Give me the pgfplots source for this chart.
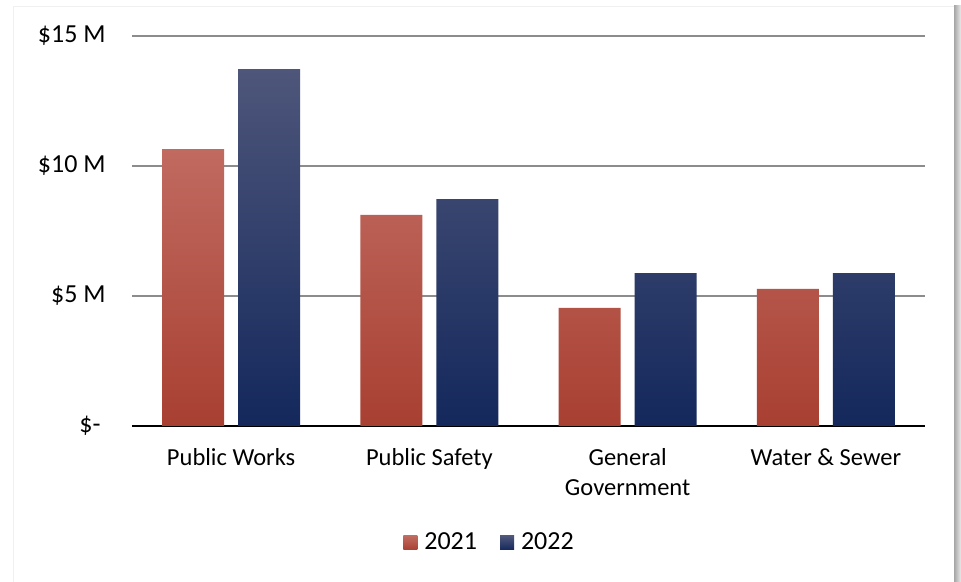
\documentclass[border=0pt]{standalone}
\usepackage{pgfplots}
\pgfplotsset{compat=1.18}
\usepackage{fontspec}
\setmainfont{Carlito}
\definecolor{gridc}{RGB}{140,140,140}
\definecolor{rtop}{RGB}{193,106,96}
\definecolor{rmid}{RGB}{186,80,66}
\definecolor{rbot}{RGB}{168,64,50}
\definecolor{btop}{RGB}{78,86,122}
\definecolor{bmid}{RGB}{30,48,100}
\definecolor{bbot}{RGB}{20,40,92}
\begin{document}
\begin{tikzpicture}[x=1bp,y=1bp]
\fontsize{24.5bp}{30bp}\selectfont
% page and frame
\fill[white] (0,0) rectangle (961,582);
\fill[left color=black!35, right color=black!8] (954,0) rectangle (961,576);
\draw[black!6, line width=1bp] (13.5,0) -- (13.5,575.5) -- (954,575.5);
\begin{axis}[
  at={(132bp,156bp)}, anchor=south west,
  scale only axis, width=793bp, height=390bp,
  xmin=-0.5, xmax=3.5, ymin=0, ymax=15,
  ybar, bar width=0.3128,
  axis line style={draw=none},
  axis x line*=bottom,
  x axis line style={draw=black, line width=1.5bp},
  y axis line style={draw=none},
  xtick={0,1,2,3},
  xticklabels={Public Works, Public Safety, General\\Government, Water \& Sewer},
  x tick label style={align=center, font=\fontsize{24.5bp}{30bp}\selectfont, yshift=-14bp},
  ytick={0,5,10,15},
  yticklabels={\$-\hspace*{5bp}, \$5 M, \$10 M, \$15 M},
  y tick label style={font=\fontsize{26bp}{30bp}\selectfont, anchor=east, xshift=-18bp},
  major tick length=0pt,
  ymajorgrids, grid style={gridc, line width=1.5bp},
  axis on top=false,
  legend columns=2,
  legend style={draw=none, fill=none, at={(0.4515,-0.30)}, anchor=center,
    font=\fontsize{26bp}{30bp}\selectfont,
    /tikz/every even column/.append style={column sep=20bp},
    nodes={inner sep=3bp}},
  legend image code/.code={\path[#1, draw=none] (0bp,-7bp) rectangle (14bp,7bp);\path (14bp,0) -- (18bp,0);},
]
\addplot[draw=none, top color=rtop, middle color=rmid, bottom color=rbot, bar shift=-0.1917]
  coordinates {(0,10.65) (1,8.12) (2,4.54) (3,5.27)};
\addplot[draw=none, top color=btop, middle color=bmid, bottom color=bbot, bar shift=0.1917]
  coordinates {(0,13.73) (1,8.73) (2,5.88) (3,5.88)};
\legend{2021, 2022}
\end{axis}
\pgfresetboundingbox
\path (0,0) rectangle (961,582);
\end{tikzpicture}
\end{document}
